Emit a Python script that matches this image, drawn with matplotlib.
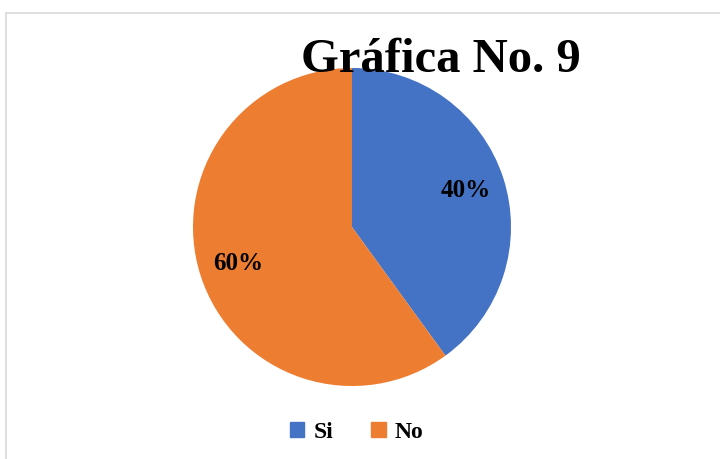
import matplotlib
matplotlib.use('Agg')
import matplotlib.pyplot as plt
from matplotlib.patches import Rectangle
from matplotlib.lines import Line2D

# data
labels = ['Si', 'No']
values = [40, 60]
colors = ['#4472C4', '#ED7D31']
title = 'Gráfica No. 9'

plt.rcParams['font.family'] = ['Liberation Serif', 'DejaVu Serif']

W, H = 720, 459
fig = plt.figure(figsize=(W / 100, H / 100), dpi=100)

# light frame around the chart area (only top and left visible)
fig.add_artist(Line2D([6 / W, 6 / W], [0, 1 - 13 / H], transform=fig.transFigure,
                      color='#d9d9d9', lw=1.2))
fig.add_artist(Line2D([6 / W, 1], [1 - 13 / H, 1 - 13 / H], transform=fig.transFigure,
                      color='#d9d9d9', lw=1.2))

cx, cy, r = 352, 227, 159
ax = fig.add_axes([(cx - r) / W, (H - cy - r) / H, 2 * r / W, 2 * r / H])
wedges, texts, autotexts = ax.pie(values, colors=colors, startangle=90, counterclock=False,
                                  autopct='%1.0f%%', pctdistance=0.75,
                                  wedgeprops=dict(linewidth=0),
                                  textprops=dict(fontsize=18, fontweight='bold', color='black'))
ax.set_xlim(-1, 1)
ax.set_ylim(-1, 1)
ax.set_aspect('equal')
ax.axis('off')

fig.text(441 / W, 1 - 72 / H, title, ha='center', va='baseline',
         fontsize=35, fontweight='bold')

handles = [Rectangle((0, 0), 1, 1, color=c) for c in colors]
fig.legend(handles, labels, loc='center', bbox_to_anchor=(357 / W, 1 - 432 / H),
           ncol=2, frameon=False, handlelength=0.6, handleheight=0.6,
           handletextpad=0.4, columnspacing=1.6,
           prop=dict(size=17, weight='bold'))

fig.savefig('out.png', dpi=100)
